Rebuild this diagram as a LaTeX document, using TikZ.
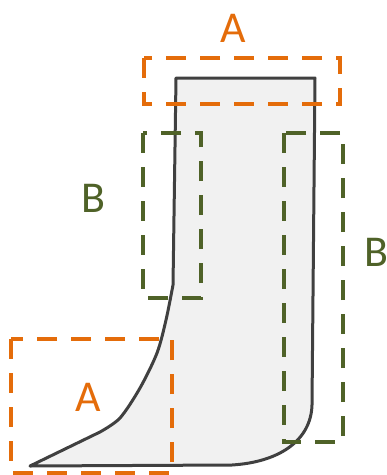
\documentclass[tikz,border=0pt]{standalone}
\usepackage{fontspec}
\setmainfont{Carlito}
\usepackage{xcolor}
\usetikzlibrary{positioning}

\definecolor{zoneorange}{HTML}{E46C0A}
\definecolor{zonegreen}{HTML}{4F6228}
\definecolor{bootgray}{HTML}{404040}
\definecolor{bootfill}{HTML}{F1F1F1}

\begin{document}
\begin{tikzpicture}[
    x=1pt, y=-1pt,
    zone/.style={line width=4pt, dash pattern=on 20pt off 14pt},
    zoneA/.style={zone, draw=zoneorange},
    zoneB/.style={zone, draw=zonegreen},
    zonelabel/.style={inner sep=0pt, font=\fontsize{44}{44}\selectfont},
]
\useasboundingbox (0,0) rectangle (387,475);

% --- Outline of the part ---
\draw[line width=3pt, draw=bootgray, fill=bootfill, line join=round]
    (176,78) -- (315,78) -- (312,405)
    .. controls (311,440) and (280,462) .. (232,465)
    -- (30,466) -- (100,432)
    -- plot[smooth, tension=0.5] coordinates
        {(100,432) (120,418) (140,388) (157,353) (166,320) (173,285)}
    -- cycle;

% --- Zones A ---
\draw[zoneA] (144,58) rectangle (340,104);
\draw[zoneA] (11,339) rectangle (172,473);

% --- Zones B ---
\draw[zoneB] (143,133) rectangle (201,298);
\draw[zoneB] (284,133) rectangle (343,442);

% --- Labels ---
\node[zonelabel, text=zoneorange] (labAtop) at (233,28) {A};
\node[zonelabel, text=zoneorange] (labAbot) at (88,397) {A};
\node[zonelabel, text=zonegreen] (labBleft) at (93,198) {B};
\node[zonelabel, text=zonegreen] (labBright) at (376,252) {B};

\end{tikzpicture}
\end{document}
